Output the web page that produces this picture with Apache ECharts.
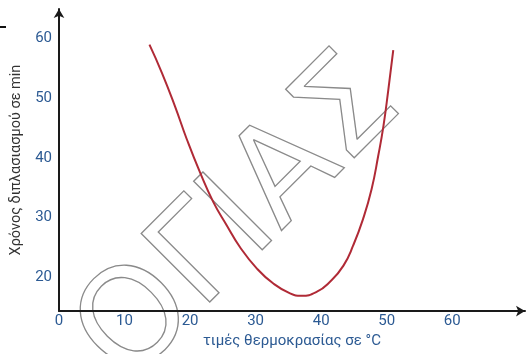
<!DOCTYPE html>
<html>
<head>
<meta charset="utf-8">
<script src="https://cdn.jsdelivr.net/npm/echarts@6/dist/echarts.min.js"></script>
<style>
html,body{margin:0;padding:0;background:#fff;}
#c{width:530px;height:354px;}
</style>
</head>
<body>
<div id="c"></div>
<script>
// Data
const tempValues = [13.8, 15.7, 17.7, 19.5, 21.5, 23.55, 25.6, 27.6, 30.2, 32.7, 35.25, 37.0, 39.3, 41.35, 43.4, 44.9, 46.4, 47.7, 48.7, 49.5, 50.25, 51.0];
const timeValues = [58.9, 54.2, 48.6, 43.1, 37.6, 32.6, 28.7, 25.1, 21.5, 19.0, 17.35, 16.95, 17.6, 19.3, 22.0, 25.4, 29.8, 34.8, 40.3, 45.3, 51.4, 58.0];
const xTickLabels = [0, 10, 20, 30, 40, 50, 60];
const yTickLabels = [20, 30, 40, 50, 60];
const xTitle = 'τιμές θερμοκρασίας σε °C';
const yTitle = 'Χρόνος διπλασιασμού σε min';
const watermarkText = 'ΟΓΙΑΣ';

const points = tempValues.map((t, i) => [t, timeValues[i]]);
const labelColor = '#2c5a93';

const chart = echarts.init(document.getElementById('c'), null, {renderer: 'canvas'});
chart.setOption({
  animation: false,
  backgroundColor: '#fff',
  grid: {left: 59, right: 5, top: 9, bottom: 41.3, containLabel: false},
  xAxis: {
    type: 'value', min: 0, max: 71.1,
    axisLine: {show: true, lineStyle: {color: '#1a1a1a', width: 2}, symbol: ['none', 'arrow'], symbolSize: [8, 9]},
    axisTick: {show: false},
    splitLine: {show: false},
    axisLabel: {customValues: xTickLabels, color: labelColor, fontFamily: 'Roboto', fontSize: 15, margin: 3},
    name: xTitle, nameLocation: 'middle', nameGap: 21,
    nameTextStyle: {color: labelColor, fontFamily: 'Roboto', fontSize: 15}
  },
  yAxis: {
    type: 'value', min: 14.4, max: 64.85,
    axisLine: {show: true, lineStyle: {color: '#1a1a1a', width: 2}, symbol: ['none', 'arrow'], symbolSize: [8, 9]},
    axisTick: {show: false},
    splitLine: {show: false},
    axisLabel: {customValues: yTickLabels, color: labelColor, fontFamily: 'Roboto', fontSize: 15, margin: 7},
    name: yTitle, nameLocation: 'middle', nameGap: 30,
    nameTextStyle: {color: '#333', fontFamily: 'Roboto', fontSize: 14.5}
  },
  graphic: {
    elements: [
      {
        type: 'text', x: 241, y: 222, rotation: Math.PI / 4, z: 0, silent: true,
        style: {
          text: watermarkText, font: '133px "DejaVu Sans"',
          fill: 'rgba(0,0,0,0)', stroke: '#8a8a8a', lineWidth: 1.3,
          align: 'center', verticalAlign: 'middle'
        }
      },
      {
        type: 'line', z: 5, silent: true,
        shape: {x1: 0, y1: 27, x2: 6, y2: 27},
        style: {stroke: '#111', lineWidth: 2}
      }
    ]
  },
  series: [{
    type: 'line', data: points, smooth: 0.5, showSymbol: false, z: 10,
    lineStyle: {color: '#b02a36', width: 2}
  }]
});
</script>
</body>
</html>
